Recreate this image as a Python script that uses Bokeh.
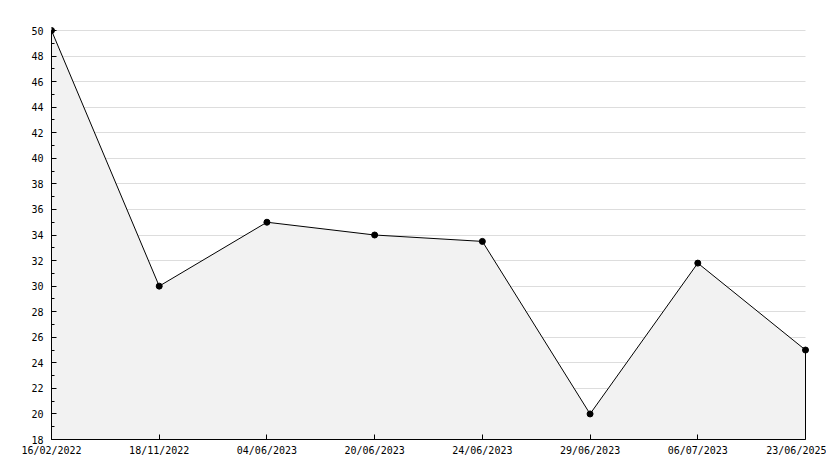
from bokeh.plotting import figure
from bokeh.models import Range1d, FixedTicker
from bokeh.embed import file_html
from bokeh.resources import INLINE

dates = ["16/02/2022", "18/11/2022", "04/06/2023", "20/06/2023",
         "24/06/2023", "29/06/2023", "06/07/2023", "23/06/2025"]
values = [50, 30, 35, 34, 33.5, 20, 31.8, 25]
y_min, y_max = 18, 50

idx = list(range(len(dates)))
n = len(dates) - 1

# small padding at top/right so edge markers are not clipped
pad_px = 5
x_pad = pad_px * n / 754
y_pad = pad_px * (y_max - y_min) / 409

p = figure(width=826, height=460, output_backend="svg", toolbar_location=None,
           x_range=Range1d(0, n + x_pad), y_range=Range1d(y_min, y_max + y_pad),
           min_border_left=51, min_border_right=21 - pad_px,
           min_border_top=30 - pad_px, min_border_bottom=21)
p.outline_line_color = None
p.background_fill_color = "white"

px = idx + [idx[-1], idx[0]]
py = values + [y_min, y_min]
p.patch(px, py, fill_color="#f2f2f2", line_color="black", line_width=1)
p.scatter(idx, values, size=6, marker="circle", color="black")

font = "DejaVu Sans Mono"
p.xaxis.ticker = FixedTicker(ticks=idx)
p.xaxis.major_label_overrides = {i: d for i, d in enumerate(dates)}
p.yaxis.ticker = FixedTicker(ticks=list(range(y_min, y_max + 1, 2)),
                             minor_ticks=list(range(y_min + 1, y_max, 2)))
for ax in (p.xaxis[0], p.yaxis[0]):
    ax.major_tick_in = 5
    ax.major_tick_out = 0
    ax.minor_tick_in = 3
    ax.minor_tick_out = 0
    ax.axis_line_color = "black"
    ax.major_tick_line_color = "black"
    ax.minor_tick_line_color = "black"
    ax.major_label_text_font = font
    ax.major_label_text_font_size = "10px"
    ax.major_label_text_color = "black"
p.xaxis.bounds = (0, n)
p.yaxis.bounds = (y_min, y_max)
p.xaxis.major_label_standoff = 5
p.yaxis.major_label_standoff = 8
p.xaxis.minor_tick_line_color = None
p.xgrid.grid_line_color = None
p.ygrid.grid_line_color = "#dddddd"
p.ygrid.cross_bounds = (0, n)

open("out.html", "w").write(file_html(p, INLINE))
